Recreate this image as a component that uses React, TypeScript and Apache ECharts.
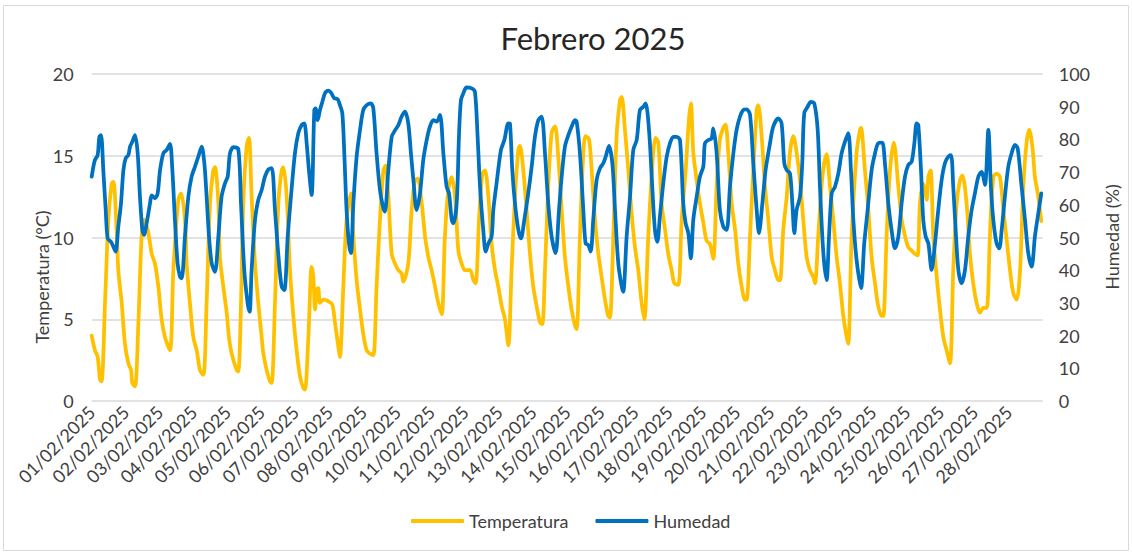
import React, { useEffect, useRef } from "react";
import * as echarts from "echarts";

// Hours since 01/02/2025 00:00 and value
const temperatura: [number, number][] = [
  [0,4.0],[2.3,3.1],[4.2,2.7],[5.9,1.3],[7.0,1.2],[9.4,6.0],[11.8,11.1],[14.1,13.3],[15.3,13.4],[17.6,10.5],[18.8,8.0],[21.2,6.0],[23.5,3.5],[25.9,2.3],[27.8,1.9],[28.7,1.1],[30.6,0.9],[33.0,4.8],[35.3,10.1],[37.2,11.1],[40.0,10.3],[42.4,9.0],[44.7,8.4],[47.1,7.0],[49.4,5.0],[51.8,3.9],[55.3,3.1],[57.7,8.0],[61.2,12.3],[63.1,12.7],[65.9,11.1],[67.1,8.4],[69.4,6.0],[71.8,3.9],[74.2,3.1],[76.5,1.9],[78.9,1.6],[81.2,6.0],[83.6,12.1],[85.9,14.1],[87.1,14.3],[89.5,12.1],[90.6,8.8],[93.0,7.0],[95.4,5.4],[97.0,3.9],[98.9,2.9],[102.4,1.9],[103.6,1.8],[105.5,6.0],[107.1,12.1],[109.5,15.6],[111.1,16.1],
  [113.0,12.5],[115.4,8.4],[117.7,6.0],[120.1,3.9],[121.3,2.9],[123.6,1.9],[126.0,1.2],[127.2,1.1],[129.5,6.0],[131.9,12.1],[134.2,14.1],[135.4,14.3],[137.8,12.5],[140.1,8.0],[142.5,5.2],[144.8,3.1],[147.2,1.5],[149.5,0.8],[150.7,0.7],[153.1,3.9],[155.4,8.2],[156.6,7.6],[157.8,5.6],[159.0,6.8],[160.1,6.9],[161.3,6.0],[163.7,6.2],[167.2,6.1],[170.0,5.9],[171.9,4.8],[174.3,3.3],[175.4,2.7],[177.8,7.0],[180.1,11.1],[183.2,12.7],[184.9,10.1],[187.2,7.4],[189.6,5.6],[191.9,4.1],[194.3,3.1],[196.6,2.9],[199.0,2.8],[201.3,7.0],[203.7,11.1],[206.1,14.1],[207.7,14.4],[209.6,12.5],[212.0,9.0],[214.3,8.4],[216.7,8.0],[219.0,7.8],[220.2,7.3],
  [223.7,8.4],[226.1,11.7],[228.4,13.5],[230.3,13.6],[233.2,12.1],[235.5,10.1],[237.9,8.8],[240.2,8.0],[242.6,7.0],[244.9,6.0],[247.3,5.3],[249.6,10.1],[252.0,12.9],[254.4,13.7],[256.7,12.5],[259.1,9.2],[261.4,8.4],[263.8,8.0],[267.3,8.0],[269.7,7.4],[271.3,7.2],[273.7,11.1],[276.0,13.9],[277.9,14.1],[280.3,12.5],[282.6,9.6],[285.0,8.0],[287.3,7.0],[289.7,5.8],[292.0,5.0],[294.4,3.4],[296.7,8.0],[299.1,12.5],[301.5,15.4],[302.6,15.6],[305.0,14.1],[307.3,11.7],[309.7,9.0],[312.0,7.0],[314.4,5.8],[316.8,4.8],[318.4,4.7],[320.3,8.0],[322.6,13.1],[325.0,16.4],[327.4,16.8],[329.7,14.9],[332.1,11.7],[334.4,8.8],[336.8,7.0],[339.1,5.6],[341.5,4.6],[342.7,4.4],
  [345.0,10.1],[347.4,15.2],[349.0,16.2],[351.4,16.0],[353.3,14.1],[355.6,11.1],[358.0,9.0],[360.3,7.6],[362.7,6.2],[365.0,5.2],[366.2,5.1],[368.6,10.1],[370.9,16.2],[373.3,18.4],[374.5,18.6],[376.8,16.6],[379.2,14.1],[381.5,11.5],[383.9,9.4],[386.2,8.0],[388.6,6.0],[390.5,5.0],[393.3,10.1],[396.8,15.2],[398.5,16.1],[400.4,15.8],[402.7,12.1],[405.1,10.5],[407.4,9.0],[409.8,8.0],[411.7,7.2],[414.5,7.1],[416.9,11.1],[419.7,14.1],[422.0,17.2],[423.4,18.2],[425.1,15.2],[427.5,13.5],[429.8,12.1],[432.2,10.9],[434.5,9.8],[436.9,9.6],[439.2,8.7],[441.6,13.1],[443.9,16.0],[446.3,16.7],[447.9,16.9],
  [449.8,15.2],[452.2,12.1],[454.6,10.5],[456.9,8.4],[459.3,7.0],[461.6,6.2],[462.8,6.2],[465.2,10.1],[467.5,14.1],[469.9,17.8],[471.0,18.1],[473.4,16.2],[475.8,13.1],[478.1,11.1],[480.5,8.8],[482.8,8.0],[485.2,7.4],[486.4,7.4],[488.7,10.5],[491.1,12.5],[493.4,15.2],[495.8,16.2],[498.1,15.2],[500.5,13.5],[502.8,11.1],[505.2,8.8],[507.5,8.0],[509.9,7.6],[511.1,7.2],[513.4,10.1],[516.3,13.7],[519.3,15.1],[521.7,13.1],[524.0,11.1],[526.4,8.8],[528.7,7.2],[531.1,5.2],[533.5,3.9],[534.6,3.5],[537.0,10.1],[540.5,15.2],[542.9,16.6],[543.6,16.7],[546.4,14.1],[548.8,11.7],[551.1,8.8],[553.5,7.2],[555.8,5.8],[558.2,5.2],[559.4,5.2],[561.7,10.1],[564.1,14.1],[566.8,15.8],
  [570.0,13.1],[572.3,11.1],[574.7,10.1],[577.0,9.4],[579.4,9.2],[581.7,9.0],[583.6,8.9],[585.3,12.1],[587.6,13.3],[588.8,12.9],[590.0,12.3],[591.2,13.7],[592.8,14.1],[594.7,10.1],[597.1,7.6],[599.4,5.6],[601.8,3.9],[604.1,3.1],[606.5,2.3],[608.8,8.0],[611.2,12.1],[613.5,13.5],[615.2,13.8],[618.2,12.1],[620.6,9.0],[622.9,7.2],[625.3,6.0],[627.7,5.4],[630.0,5.7],[632.4,5.7],[634.7,10.1],[637.1,13.7],[639.4,13.9],[641.8,13.7],[644.2,11.7],[646.5,9.9],[648.9,8.0],[651.2,6.6],[653.6,6.2],[656.0,8.0],[658.3,13.1],[660.6,15.8],[662.5,16.6],[664.9,15.4],[666.5,13.7],[668.5,12.7],[671,11.0]
];

const humedad: [number, number][] = [
  [0,68.6],[1.2,71.7],[2.3,73.7],[4.2,75.2],[5.4,80.8],[6.6,81.3],[8.2,70.6],[9.9,58.4],[11.3,49.7],[13.6,48.7],[15.3,47.2],[16.9,45.7],[18.8,53.3],[20.7,60.4],[22.4,70.6],[24.0,74.2],[25.9,75.2],[27.1,77.8],[28.7,79.3],[30.6,81.3],[32.5,75.7],[34.1,62.5],[35.8,52.3],[37.0,50.8],[38.8,54.3],[41.2,60.4],[42.4,62.9],[44.7,62.0],[46.6,63.5],[48.3,70.6],[50.6,75.7],[53.0,76.8],[55.3,78.6],[57.0,70.6],[58.8,55.4],[60.7,42.1],[62.4,38.0],[63.6,37.5],[65.9,50.3],[68.3,62.5],[70.6,68.6],[73.0,71.7],[75.3,74.7],[77.7,77.8],[79.6,72.7],[81.2,62.5],[82.9,50.3],[84.8,42.1],[87.1,39.5],[89.5,50.3],[91.8,62.5],[94.2,66.6],[96.1,68.6],[97.7,75.7],[100.1,77.6],[103.6,77.0],[105.5,60.4],[107.8,40.1],[110.2,29.9],[111.6,27.3],
  [113.0,40.1],[115.4,55.4],[117.7,61.5],[120.1,64.5],[122.4,68.6],[124.8,70.8],[127.2,71.2],[129.5,58.4],[131.9,44.7],[134.2,35.0],[136.1,33.9],[138.5,50.3],[140.8,62.5],[143.6,75.7],[146.0,81.9],[148.4,84.4],[150.2,84.9],[151.9,78.8],[153.5,70.6],[155.4,63.0],[157.3,89.0],[158.2,89.5],[159.7,85.9],[161.3,89.0],[163.0,91.5],[164.8,94.1],[167.2,94.9],[169.1,94.3],[171.4,92.6],[173.8,92.3],[175.4,90.5],[177.1,88.0],[178.5,75.7],[180.1,58.4],[181.8,48.2],[183.2,45.2],[184.9,60.4],[187.2,74.7],[189.6,82.9],[191.9,89.0],[194.3,90.5],[197.3,91.0],[199.0,89.5],[201.3,75.7],[203.7,64.5],[206.1,58.9],[207.2,57.9],[209.6,70.6],[212.0,80.8],[213.8,82.4],[216.7,84.4],[219.0,87.0],[221.4,88.5],
  [223.7,84.9],[225.6,75.7],[227.3,67.6],[229.6,58.4],[232.0,63.5],[234.3,73.7],[236.7,79.8],[239.0,83.9],[241.4,85.9],[243.8,85.4],[246.1,87.5],[248.5,75.7],[250.8,65.5],[252.5,63.5],[254.4,55.4],[255.5,54.3],[257.9,60.4],[259.5,80.8],[260.9,92.0],[262.6,94.1],[264.9,95.9],[268.5,95.6],[270.8,94.6],[272.7,80.8],[274.4,65.5],[276.7,52.3],[278.4,45.7],[280.3,48.2],[282.6,50.3],[283.8,58.4],[286.1,66.6],[289.2,76.8],[291.6,79.8],[294.4,84.9],[295.6,84.7],[297.2,70.6],[299.1,60.4],[301.5,52.3],[303.3,49.7],[305.7,55.4],[308.5,63.5],[310.9,71.7],[313.2,80.8],[315.6,85.9],[317.9,87.0],[320.3,75.7],[322.6,60.4],[325.0,50.3],[327.8,45.2],[330.2,58.4],[332.1,68.6],[334.4,77.8],[336.8,81.3],[339.1,83.9],[341.5,85.9],[342.7,85.4],
  [345.0,75.7],[347.4,58.4],[349.0,48.2],[350.9,47.7],[352.6,45.7],[354.4,55.4],[356.8,67.6],[359.2,71.2],[361.5,72.7],[363.2,74.7],[365.5,78.0],[367.9,72.7],[369.8,58.4],[372.1,42.1],[374.5,35.0],[375.6,33.4],[378.0,50.3],[380.4,62.5],[382.7,76.8],[385.1,79.8],[387.4,89.0],[389.8,90.0],[391.4,91.0],[393.8,82.9],[396.1,65.5],[398.0,52.3],[399.7,48.7],[401.5,56.4],[403.9,66.6],[406.3,74.7],[408.6,78.8],[411.0,80.8],[413.3,80.8],[415.7,79.8],[418.0,60.4],[419.7,54.3],[421.6,51.3],[423.4,43.6],[425.1,55.4],[427.5,62.5],[429.8,68.6],[432.2,71.7],[433.3,78.8],[435.7,79.8],[438.0,80.3],[439.2,83.4],[441.6,75.7],[443.9,58.4],[446.3,53.3],[448.7,52.3],
  [451.0,65.5],[453.4,75.7],[455.7,82.9],[458.1,87.0],[460.4,89.0],[462.8,89.2],[465.2,87.5],[467.5,72.7],[469.9,58.4],[471.5,51.3],[473.9,60.4],[476.2,70.6],[479.3,78.8],[481.6,83.9],[485.2,86.4],[487.5,84.9],[489.4,72.7],[491.1,70.6],[493.4,69.6],[495.1,60.4],[496.5,51.3],[498.1,58.4],[500.5,62.5],[502.1,72.7],[503.5,88.0],[505.9,90.0],[508.2,91.5],[510.6,91.0],[513.0,82.9],[514.6,65.5],[517.0,45.2],[519.3,37.0],[521.0,50.3],[522.9,63.5],[525.2,65.5],[527.6,69.6],[529.9,75.7],[532.3,79.3],[534.6,81.9],[536.5,70.6],[538.2,55.4],[540.5,43.1],[543.6,34.5],[545.9,48.2],[548.3,58.4],[551.1,70.6],[553.5,75.7],[555.8,78.8],[558.6,79.0],[560.5,72.7],[562.9,60.4],[565.2,52.3],
  [567.6,46.7],[570.0,50.3],[572.3,60.4],[574.7,68.6],[577.0,72.2],[579.4,73.2],[581.3,78.8],[582.9,84.9],[584.1,84.4],[586.0,70.6],[587.6,55.4],[589.3,50.3],[591.2,48.2],[593.5,40.1],[595.9,48.2],[598.2,58.4],[600.6,67.6],[602.9,72.7],[605.3,74.7],[607.2,75.2],[608.8,65.5],[610.5,52.3],[612.4,40.1],[614.7,36.0],[617.1,40.1],[619.4,50.3],[621.8,58.4],[624.1,63.5],[626.5,68.6],[628.8,70.1],[631.2,66.1],[633.6,82.9],[635.4,65.5],[637.1,55.4],[639.4,48.2],[641.3,46.7],[643.0,52.3],[645.3,62.5],[647.7,71.7],[650.0,75.7],[652.4,78.3],[654.3,77.3],[657.1,65.5],[659.5,55.4],[661.8,45.2],[664.2,41.1],[666.5,50.3],[668.9,57.4],[671,63.5]
];

const dayLabels: string[] = Array.from({ length: 28 }, (_, i) => `${String(i + 1).padStart(2, "0")}/02/2025`);

const FONT = "Lato";
const TEXT = "#404040";

export default function App() {
  const ref = useRef<HTMLDivElement>(null);
  useEffect(() => {
    if (!ref.current) return;
    const chart = echarts.init(ref.current, undefined, { renderer: "svg" });
    chart.setOption({
      animation: false,
      backgroundColor: "#ffffff",
      title: {
        text: "Febrero 2025",
        left: 588,
        textAlign: "center",
        top: 17,
        textStyle: { fontFamily: FONT, fontSize: 31, fontWeight: "normal", color: "#262626" },
      },
      legend: {
        left: 406,
        top: 507,
        itemWidth: 53,
        itemHeight: 4,
        itemGap: 27,
        icon: "roundRect",
        textStyle: { fontFamily: FONT, fontSize: 18, color: TEXT },
        data: ["Temperatura", "Humedad"],
      },
      grid: { left: 91.7, top: 74, width: 951, height: 327, containLabel: false, outerBoundsMode: "none" },
      xAxis: {
        type: "value",
        min: 0,
        max: 672,
        interval: 24,
        axisLine: { show: false },
        axisTick: { show: false },
        splitLine: { show: false },
        axisLabel: {
          rotate: 45,
          margin: 8,
          fontFamily: FONT,
          fontSize: 18,
          color: TEXT,
          showMaxLabel: true,
          formatter: (v: number) => dayLabels[Math.round(v / 24)] ?? "",
        },
      },
      yAxis: [
        {
          type: "value",
          min: 0,
          max: 20,
          interval: 5,
          axisLine: { show: false },
          axisTick: { show: false },
          splitLine: { lineStyle: { color: "#d9d9d9", width: 1.5 } },
          axisLabel: { margin: 18, fontFamily: FONT, fontSize: 18, color: TEXT },
        },
        {
          type: "value",
          min: 0,
          max: 100,
          interval: 10,
          position: "right",
          axisLine: { show: false },
          axisTick: { show: false },
          splitLine: { show: false },
          axisLabel: { margin: 16, fontFamily: FONT, fontSize: 18, color: TEXT },
        },
      ],
      graphic: [
        {
          type: "rect",
          shape: { x: 3.5, y: 5.5, width: 1125, height: 545 },
          style: { fill: "none", stroke: "#d9d9d9", lineWidth: 1 },
          silent: true,
        },
        {
          type: "text",
          x: 42,
          y: 277,
          rotation: Math.PI / 2,
          style: {
            text: "Temperatura (°C)",
            fontFamily: FONT,
            fontSize: 18,
            fill: TEXT,
            textAlign: "center",
            textVerticalAlign: "middle",
          },
        },
        {
          type: "text",
          x: 1112,
          y: 237,
          rotation: Math.PI / 2,
          style: {
            text: "Humedad (%)",
            fontFamily: FONT,
            fontSize: 18,
            fill: TEXT,
            textAlign: "center",
            textVerticalAlign: "middle",
          },
        },
      ],
      series: [
        {
          name: "Temperatura",
          type: "line",
          yAxisIndex: 0,
          data: temperatura,
          showSymbol: false,
          smooth: 0.3,
          lineStyle: { color: "#FFC000", width: 3.75, cap: "round", join: "round" },
          itemStyle: { color: "#FFC000" },
        },
        {
          name: "Humedad",
          type: "line",
          yAxisIndex: 1,
          data: humedad,
          showSymbol: false,
          smooth: 0.3,
          lineStyle: { color: "#0070C0", width: 3.75, cap: "round", join: "round" },
          itemStyle: { color: "#0070C0" },
        },
      ],
    });
    return () => chart.dispose();
  }, []);
  return (
    <div
      ref={ref}
      style={{ position: "absolute", left: 0, top: 0, width: 1132, height: 554, background: "#fff" }}
    />
  );
}
